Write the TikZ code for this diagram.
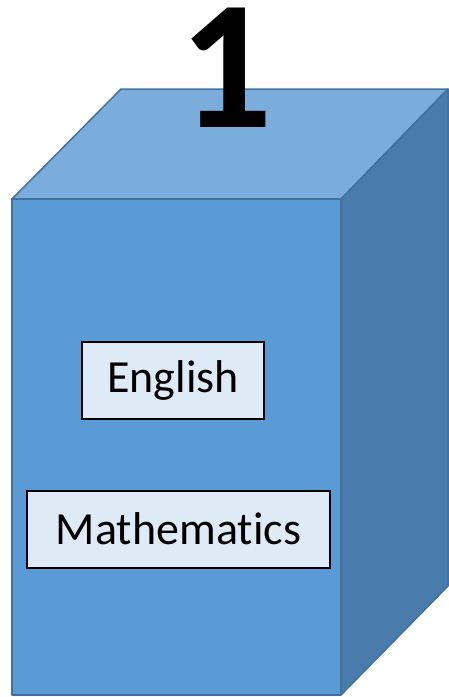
\documentclass[tikz,border=0pt]{standalone}
\usepackage{fontspec}
\setmainfont{Carlito}[Ligatures=CommonOff]
\usetikzlibrary{positioning}
\definecolor{front}{HTML}{5B9BD5}
\definecolor{topside}{HTML}{7AADDC}
\definecolor{rside}{HTML}{497CAB}
\definecolor{edge}{HTML}{41719C}
\definecolor{paper}{HTML}{DEEAF6}
\tikzset{face/.style={draw=edge,line width=1.5pt,line join=round},subj/.style={draw=black,line width=2pt,fill=paper,inner xsep=25pt,minimum height=77pt,font=\fontsize{46}{46}\selectfont}}
\begin{document}
\begin{tikzpicture}[x=1pt,y=-1pt]
\useasboundingbox (0,0) rectangle (449,697);
\draw[face,fill=topside] (12,199)--(121,89)--(448,89)--(341,199)--cycle;
\draw[face,fill=rside] (341,199)--(448,89)--(448,586)--(341,695)--cycle;
\draw[face,fill=front] (12,199) rectangle (341,695);
\node (num) [inner sep=0,anchor=base,text height=120pt,text depth=0pt,font=\fontsize{184}{184}\bfseries] at (226.5,127) {1};
\node (eng) [subj,minimum width=182pt] at (173,380.5) {English};
\node (math) [subj,minimum width=303pt] at (178.5,529) {Mathematics};
\end{tikzpicture}
\end{document}
